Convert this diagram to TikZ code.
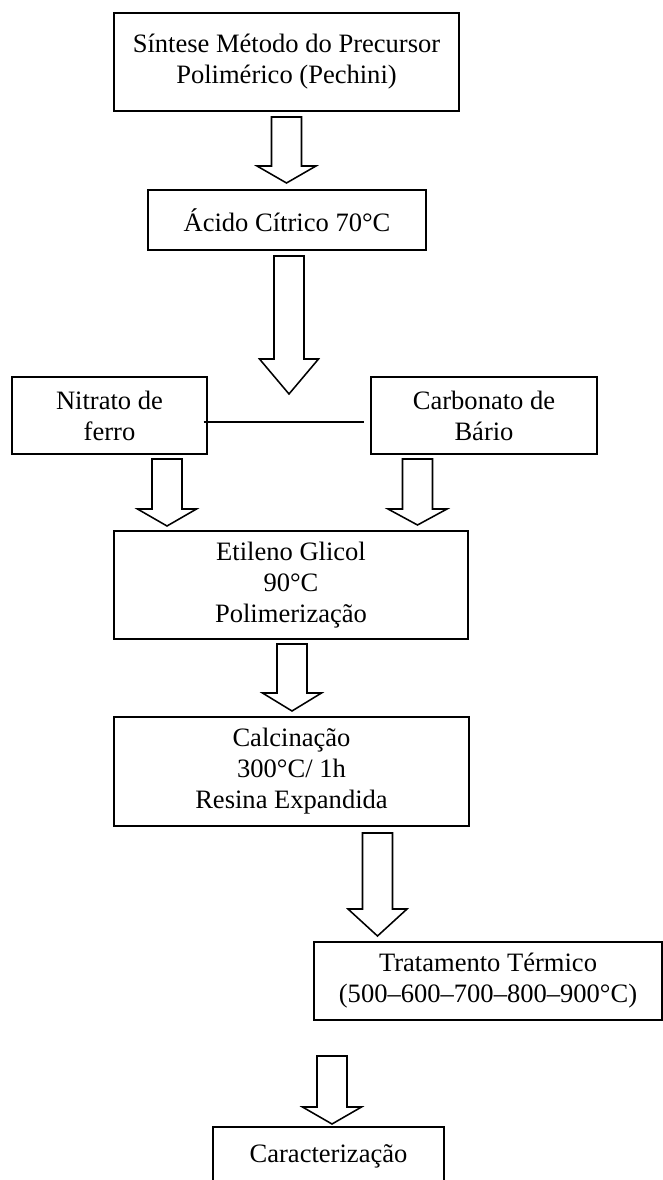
\documentclass[tikz,border=0pt]{standalone}
\usepackage{fontspec}
\setmainfont{Liberation Serif}
\usetikzlibrary{calc}

\newcommand{\setaoca}[3]{%
  \draw[seta] ($(#1)+(-15,0)$) -- ($(#2)+(-15,-#3)$) -- ($(#2)+(-29.5,-#3)$) -- (#2)
    -- ($(#2)+(29.5,-#3)$) -- ($(#2)+(15,-#3)$) -- ($(#1)+(15,0)$) -- cycle;}

\begin{document}
\begin{tikzpicture}[x=0.452pt, y=-0.452pt,
    caixa/.style={draw, line width=0.7pt, align=center, inner sep=0pt,
                  font=\fontsize{12}{14}\selectfont},
    seta/.style={line width=0.7pt, line join=miter}
  ]
  \useasboundingbox (0,0) rectangle (663,1180);
  \clip (0,0) rectangle (663,1180);

  \node[caixa, minimum width=155.9pt, minimum height=44.3pt] (SINTESE)   at (286.5,62)   {Síntese Método do Precursor\\Polimérico (Pechini)};
  \node[caixa, minimum width=125.7pt, minimum height=27.1pt] (ACIDO)     at (287,220)    {Ácido Cítrico 70°C};
  \node[caixa, minimum width=88.1pt,  minimum height=34.8pt] (NITRATO)   at (109.5,415.5) {Nitrato de\\ferro};
  \node[caixa, minimum width=102.2pt, minimum height=34.8pt] (CARBONATO) at (484,415.5)  {Carbonato de\\Bário};
  \node[caixa, minimum width=160pt,   minimum height=48.8pt] (ETILENO)   at (291,585)    {Etileno Glicol\\90°C\\Polimerização};
  \node[caixa, minimum width=160.5pt, minimum height=49.3pt] (CALCINACAO) at (291.5,771.5) {Calcinação\\ 300°C/ 1h\\Resina Expandida};
  \node[caixa, minimum width=157.3pt, minimum height=35.3pt] (TRATAMENTO) at (488,981)   {Tratamento Térmico\\(500–600–700–800–900°C)};
  \node[caixa, minimum width=104.4pt, minimum height=26.2pt] (CARACT)    at (328.5,1156) {Caracterização};

  \coordinate (S1) at (286.5,117);  \coordinate (T1) at (286.5,183);
  \coordinate (S2) at (289,256);    \coordinate (T2) at (289,394);
  \coordinate (S3) at (167,459);    \coordinate (T3) at (167,526);
  \coordinate (S4) at (417.5,459);  \coordinate (T4) at (417.5,525);
  \coordinate (S5) at (292,644);    \coordinate (T5) at (292,711);
  \coordinate (S6) at (377.5,833);  \coordinate (T6) at (377.5,936);
  \coordinate (S7) at (332,1056);   \coordinate (T7) at (332,1124);

  \setaoca{S1}{T1}{17}
  \setaoca{S2}{T2}{35}
  \setaoca{S3}{T3}{17}
  \setaoca{S4}{T4}{16}
  \setaoca{S5}{T5}{18}
  \setaoca{S6}{T6}{27}
  \setaoca{S7}{T7}{17}

  \draw[line width=0.7pt] ([shift={(-4,6.5)}]NITRATO.east) -- ([shift={(-6,6.5)}]CARBONATO.west);
\end{tikzpicture}
\end{document}
